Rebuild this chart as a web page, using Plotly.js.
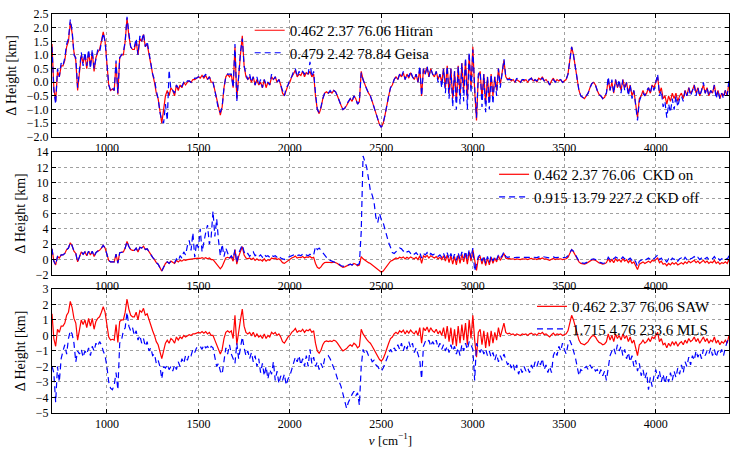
<!DOCTYPE html>
<html>
<head>
<meta charset="utf-8">
<script src="https://cdn.plot.ly/plotly-3.0.1.min.js"></script>
<style>html,body{margin:0;padding:0;background:#fff;}#chart{width:747px;height:449px;}</style>
</head>
<body>
<div id="chart"></div>
<script>
// wavenumber grid: start and step (cm^-1)
const nuStart = 700;
const nuStep = 10;

// Reference run (red): 0.462 2.37 76.06
const refHitran = [
1.4,-0.2,-0.7,0.4,0.2,0.6,0.6,0.8,1.3,1.5,
2.2,1.8,1.1,0.8,-0.3,0.4,1.0,0.7,1.0,0.5,
1.1,0.6,1.1,0.4,0.9,1.1,1.2,1.5,1.85,1.5,
0.5,-0.1,-0.3,-0.25,-0.3,0.7,-0.45,0.9,1.0,1.0,
1.5,2.35,1.7,1.3,1.2,1.2,1.5,1.0,1.6,1.5,
1.75,1.3,1.4,1.0,0.6,0.3,0.0,-0.4,-0.6,-1.0,
-1.5,-1.0,-0.5,-0.3,-0.5,-0.2,-0.3,-0.5,-0.1,-0.3,
-0.1,-0.2,0.0,-0.1,0.0,0.05,0.0,0.1,0.1,0.15,
0.2,0.15,0.25,0.15,0.25,0.1,0.2,0.0,0.0,-0.3,
-0.6,-1.0,-1.2,-0.9,-0.2,0.2,0.3,0.2,0.3,-0.2,
1.3,-0.6,0.4,1.0,1.7,0.6,0.2,0.1,0.2,0.0,
0.2,-0.1,0.1,-0.1,0.0,-0.2,0.1,-0.2,0.0,-0.1,
0.2,0.1,0.2,0.0,0.1,-0.1,-0.4,-0.5,-0.3,-0.1,
0.0,0.2,0.3,0.45,0.2,0.3,0.25,0.4,0.2,0.35,
0.3,0.4,0.2,0.3,-0.5,-1.0,-1.15,-0.95,-0.6,-0.4,
-0.35,-0.4,-0.35,-0.4,-0.3,-0.35,-0.5,-0.7,-0.85,-1.0,
-0.95,-0.85,-0.7,-0.6,-0.7,-0.5,-0.6,-0.8,-0.7,0.4,
0.1,-0.1,-0.25,-0.4,-0.5,-0.7,-0.9,-1.1,-1.35,-1.55,
-1.65,-1.5,-1.2,-0.8,-0.5,-0.2,-0.1,0.1,0.2,0.1,
0.3,0.2,0.35,0.1,0.3,0.15,0.35,0.2,0.1,0.3,
0.0,0.5,-0.5,0.5,0.3,0.55,0.2,0.5,0.3,0.2,
0.4,0.1,0.3,0.0,0.5,-0.2,0.6,-0.4,0.5,-0.6,
0.4,-0.7,0.6,-0.5,0.7,-0.3,0.8,-0.6,1.0,-0.2,
1.3,-0.3,-1.4,0.2,0.4,-0.6,0.3,-0.8,0.2,-0.7,
0.3,-0.5,0.2,-0.3,0.5,-0.1,0.3,0.8,0.2,0.1,
0.15,0.05,0.1,0.0,0.1,0.05,0.0,0.1,0.05,0.1,
0.0,0.1,0.15,0.05,0.1,0.0,0.15,0.1,0.2,0.05,
0.1,0.0,-0.1,0.05,0.15,0.0,0.1,0.05,0.1,0.0,
0.05,0.1,0.3,0.9,1.3,1.0,0.6,0.2,-0.3,-0.5,
-0.55,-0.6,-0.5,-0.4,-0.2,-0.05,0.0,-0.1,-0.3,-0.45,
-0.5,-0.6,-0.55,-0.4,0.1,-0.3,0.0,-0.4,0.1,-0.2,
0.0,-0.3,0.1,-0.2,0.0,-0.4,-0.1,-0.5,-0.3,-0.8,
-1.3,-0.6,-0.5,-0.3,-0.5,-0.4,-0.2,-0.4,-0.1,-0.2,
0.0,0.2,-0.4,-0.2,-0.6,-0.5,-0.8,-0.5,-0.7,-0.4,
-0.6,-0.4,-0.7,-0.5,-0.4,-0.6,-0.3,-0.5,-0.2,-0.4,
-0.3,-0.1,-0.4,-0.2,-0.5,-0.3,-0.1,-0.4,-0.2,-0.5,
-0.3,-0.4,-0.1,-0.5,-0.3,-0.6,-0.4,-0.5,-0.3,-0.5,
0.0];

// Geisa run (blue, panel 1): 0.479 2.42 78.84
const geisa = [
1.3,-0.3,-0.8,0.5,0.2,0.7,0.6,0.9,1.4,1.6,
2.3,1.9,1.0,0.9,-0.2,0.5,1.1,0.6,1.1,0.6,
1.2,0.5,1.2,0.5,0.9,1.2,1.1,1.5,1.8,1.5,
0.5,-0.1,-0.3,-0.2,-0.3,0.8,-0.4,0.9,1.0,1.1,
1.5,2.4,1.8,1.3,1.2,1.3,1.6,1.0,1.7,1.5,
1.8,1.3,1.5,1.0,0.7,0.3,0.1,-0.3,-0.6,-1.1,
-1.4,-1.5,-0.8,-1.4,0.45,-0.3,-0.3,-0.4,-0.1,-0.2,
-0.1,-0.15,0.0,-0.05,0.05,0.05,0.0,0.1,0.15,0.15,
0.2,0.2,0.25,0.2,0.3,0.1,0.2,0.05,0.0,-0.3,
-0.6,-1.0,-1.1,-0.9,-0.2,0.2,0.3,0.3,0.3,-0.2,
1.4,-0.7,0.4,1.1,1.6,0.6,0.3,0.1,0.3,0.0,
0.2,-0.1,0.2,-0.1,0.1,-0.2,0.1,-0.1,0.0,-0.1,
0.3,0.1,0.2,0.0,0.1,-0.1,-0.3,-0.5,-0.2,-0.1,
0.1,0.2,0.4,0.5,0.2,0.4,0.3,0.4,0.3,0.4,
0.3,0.75,0.2,0.4,-0.4,-1.0,-1.1,-0.9,-0.6,-0.4,
-0.35,-0.4,-0.3,-0.4,-0.3,-0.35,-0.5,-0.7,-0.85,-1.0,
-0.95,-0.8,-0.7,-0.6,-0.7,-0.5,-0.6,-0.8,-0.7,0.35,
0.1,-0.1,-0.25,-0.4,-0.5,-0.7,-0.9,-1.1,-1.35,-1.55,
-1.65,-1.5,-1.2,-0.8,-0.5,-0.2,-0.1,0.1,0.2,0.1,
0.3,0.2,0.4,0.1,0.3,0.2,0.4,0.2,0.1,0.3,
0.0,0.6,-0.5,0.5,0.3,0.6,0.2,0.5,0.3,0.2,
0.4,0.0,0.3,-0.2,0.5,-0.4,0.6,-0.6,0.5,-0.9,
0.4,-1.0,0.6,-0.8,0.7,-0.7,0.9,-1.0,1.1,-0.4,
1.2,-0.2,-1.3,0.3,0.4,-0.9,0.3,-1.1,0.2,-1.0,
0.3,-0.8,0.2,-0.5,0.5,-0.2,0.3,0.85,0.2,0.1,
0.1,0.1,0.1,0.0,0.15,0.05,0.0,0.1,0.1,0.1,
0.05,0.1,0.15,0.0,0.1,0.05,0.15,0.1,0.15,0.05,
0.1,0.05,-0.1,0.05,0.1,0.0,0.1,0.1,0.1,0.0,
0.05,0.1,0.3,0.9,1.3,1.0,0.6,0.2,-0.3,-0.5,
-0.55,-0.6,-0.5,-0.4,-0.2,-0.05,0.0,-0.1,-0.3,-0.45,
-0.5,-0.6,-0.5,-0.4,0.2,-0.3,0.1,-0.4,0.1,-0.2,
0.1,-0.4,0.1,-0.3,0.0,-0.5,-0.1,-0.6,-0.3,-0.9,
-1.4,-0.7,-0.5,-0.4,-0.5,-0.3,-0.2,-0.4,-0.1,-0.3,
0.0,0.3,-0.5,-0.3,-0.9,-0.7,-1.3,-0.8,-1.1,-0.6,
-1.0,-0.5,-0.9,-0.6,-0.5,-0.7,-0.3,-0.5,-0.2,-0.5,
-0.3,-0.1,-0.5,-0.2,-0.5,-0.3,0.0,-0.4,-0.2,-0.5,
-0.3,-0.4,-0.1,-0.6,-0.3,-0.6,-0.4,-0.6,-0.3,-0.5,
0.1];

// CKD off run (blue, panel 2): 0.915 13.79 227.2
const ckdOff = [
1.4,-0.2,-0.7,0.4,0.2,0.6,0.6,0.8,1.3,1.5,
2.2,1.8,1.1,0.8,-0.3,0.4,1.0,0.7,1.0,0.5,
1.1,0.6,1.1,0.4,0.9,1.1,1.2,1.5,1.85,1.5,
0.5,-0.1,-0.3,-0.25,-0.3,0.7,-0.45,0.9,1.0,1.0,
1.5,2.35,1.7,1.3,1.2,1.2,1.5,1.0,1.6,1.5,
1.75,1.3,1.4,1.0,0.6,0.3,0.0,-0.4,-0.6,-1.0,
-1.5,-1.0,-0.5,-0.3,-0.5,-0.2,-0.3,-0.4,0.1,-0.2,
0.5,0.2,1.0,0.6,1.8,2.5,1.2,3.5,0.3,2.2,
1.5,4.0,1.0,2.5,3.5,4.5,2.0,3.0,6.3,3.0,
5.3,2.5,0.5,2.0,0.4,1.5,0.8,0.2,0.5,0.1,
1.3,-0.4,0.8,1.3,1.9,1.0,0.6,0.8,0.4,0.7,
1.0,0.5,0.7,0.4,0.6,0.3,0.7,0.4,0.5,0.3,
0.6,0.4,0.5,0.3,0.5,0.2,0.1,0.0,0.2,0.3,
0.4,0.5,0.6,0.7,0.5,0.6,0.5,0.7,0.5,0.6,
0.5,0.7,0.5,0.6,1.7,1.3,1.5,1.2,0.9,0.5,
0.2,0.0,-0.1,-0.2,-0.2,-0.3,-0.4,-0.6,-0.8,-0.9,
-0.9,-0.8,-0.7,-0.6,-0.7,-0.5,-0.5,-0.7,-0.5,3.6,
13.5,12.8,12.0,10.5,9.0,8.4,7.5,5.5,4.8,6.0,
5.2,4.8,3.8,3.0,2.2,1.6,0.9,0.8,1.0,1.2,
1.5,1.4,1.1,1.3,1.0,1.1,0.8,1.0,0.7,0.9,
0.6,0.9,0.2,0.8,0.6,0.9,0.5,0.8,0.6,0.7,
0.7,0.4,0.6,0.3,0.8,0.2,0.9,0.1,0.8,0.0,
0.7,-0.1,0.9,0.0,1.0,0.2,1.1,0.0,1.3,0.2,
1.5,-1.5,-0.5,0.4,0.6,-0.2,0.5,-0.5,0.4,-0.4,
0.5,-0.2,0.4,0.0,0.6,0.2,0.5,1.0,0.4,0.3,
0.35,0.3,0.3,0.25,0.3,0.3,0.25,0.3,0.3,0.3,
0.25,0.3,0.35,0.3,0.3,0.25,0.35,0.3,0.4,0.3,
0.3,0.25,0.2,0.3,0.35,0.25,0.3,0.3,0.3,0.25,
0.3,0.3,0.5,1.0,1.3,1.1,0.7,0.3,-0.2,-0.4,
-0.45,-0.5,-0.4,-0.3,-0.1,0.05,0.1,0.0,-0.2,-0.35,
-0.4,-0.5,-0.45,-0.3,0.3,0.0,0.3,0.1,0.35,0.2,
0.3,0.1,0.35,0.1,0.3,0.0,0.2,-0.1,0.1,-0.3,
-0.9,-0.2,-0.1,0.1,-0.1,0.0,0.2,0.0,0.25,0.1,
0.3,0.6,0.0,0.2,-0.2,0.0,-0.3,0.1,-0.2,0.2,
0.0,0.2,-0.2,0.1,0.2,-0.1,0.3,0.0,0.3,0.1,
0.2,0.4,0.1,0.3,0.0,0.2,0.4,0.1,0.3,0.0,
0.2,0.1,0.4,0.0,0.2,-0.1,0.1,0.0,0.2,0.0,
0.5];

// MLS run (blue, panel 3): 1.715 4.76 233.6
const mls = [
-2.0,-2.4,-4.3,-2.0,-3.0,-1.5,-1.0,-0.6,-1.2,-0.2,
0.3,0.1,-0.5,-1.7,-1.0,-1.2,-0.9,-1.4,-1.0,-1.2,
-0.8,-1.3,-0.7,-1.0,-0.5,-0.7,-0.4,-0.6,-1.0,-1.3,
-2.0,-3.0,-3.4,-3.5,-3.2,-2.4,-3.5,-0.5,-0.3,0.3,
0.5,1.5,0.6,0.3,0.5,0.0,0.3,-0.3,0.0,-0.5,
-0.2,-0.7,-0.4,-1.0,-0.8,-1.3,-1.2,-1.8,-1.6,-2.0,
-2.8,-2.0,-2.1,-1.9,-2.2,-2.0,-2.3,-1.9,-2.2,-1.7,
-2.0,-1.5,-1.8,-1.3,-1.6,-1.2,-1.3,-0.9,-1.1,-0.8,
-0.8,-0.7,-0.9,-0.6,-0.8,-0.7,-0.9,-0.7,-0.8,-1.5,
-2.0,-1.8,-2.3,-2.5,-1.5,-0.8,-1.2,-0.6,-1.2,-1.5,
-1.8,-0.5,-1.5,-0.8,-0.1,-0.8,-1.3,-1.0,-1.5,-1.1,
-1.7,-1.3,-2.0,-1.5,-2.4,-1.8,-2.6,-2.0,-2.8,-2.2,
-2.5,-1.7,-2.9,-2.3,-3.1,-2.6,-2.9,-2.5,-3.2,-2.8,
-2.6,-2.2,-1.8,-1.4,-1.7,-1.3,-1.9,-1.5,-2.0,-1.3,
-2.0,-0.9,-1.8,-1.4,-2.0,-1.7,-2.2,-1.8,-2.1,-1.5,
-1.4,-1.3,-1.5,-1.8,-2.0,-2.4,-2.8,-3.0,-3.3,-3.8,
-4.3,-4.7,-4.3,-4.0,-3.8,-3.6,-3.9,-3.7,-4.5,-2.0,
-0.9,-1.2,-1.0,-1.3,-1.4,-1.7,-1.6,-1.9,-2.0,-2.2,
-2.3,-2.1,-1.8,-1.5,-1.2,-0.9,-1.1,-0.8,-1.0,-0.6,
-0.9,-0.5,-1.0,-0.6,-0.9,-0.4,-0.8,-0.5,-1.1,-0.8,
-1.2,-1.6,-2.8,-0.7,-0.4,-0.5,-0.3,-0.7,-0.4,-0.6,
-0.3,-0.8,-0.5,-0.9,-0.6,-1.0,-0.7,-1.1,-0.6,-1.0,
-0.7,-1.2,-0.8,-1.3,-0.6,-1.0,-0.5,-0.9,-0.4,-0.6,
-0.9,-2.9,-0.5,-0.8,-1.1,-0.8,-1.2,-0.9,-1.3,-1.0,
-1.4,-1.1,-1.6,-1.2,-1.7,-1.3,-1.6,-1.2,-1.6,-1.9,
-1.7,-2.1,-1.8,-2.3,-1.9,-2.5,-2.1,-2.4,-2.0,-2.3,
-2.1,-2.4,-1.9,-2.2,-1.7,-2.0,-1.6,-1.9,-1.5,-2.2,
-1.9,-2.4,-2.0,-2.4,-1.3,-1.0,-1.3,-0.7,-1.0,-0.5,
-0.9,-1.2,-0.6,-0.3,-0.6,-1.0,-1.4,-2.0,-2.6,-2.2,
-2.3,-2.1,-2.0,-2.2,-1.9,-2.1,-2.0,-2.3,-2.2,-2.5,
-2.2,-2.6,-2.3,-2.9,-2.0,-1.3,-1.0,-0.8,-1.2,-0.6,
-1.0,-0.7,-1.3,-0.9,-1.5,-1.1,-1.7,-1.3,-2.0,-1.6,
-2.3,-1.8,-2.6,-2.2,-2.8,-2.4,-3.5,-2.7,-3.3,-2.6,
-2.2,-2.8,-2.3,-3.0,-2.5,-3.1,-2.6,-3.0,-2.4,-2.9,
-2.3,-2.7,-2.1,-2.5,-1.9,-2.4,-1.7,-2.0,-1.4,-1.9,
-1.3,-1.6,-1.0,-1.4,-1.1,-1.5,-0.9,-1.3,-1.0,-1.2,
-0.8,-1.3,-0.9,-1.4,-1.0,-1.2,-0.9,-1.3,-0.8,-0.4,
-0.2];

// Top-axis tick labels (wavelength)
const topTickNu = [1000, 1500, 2000, 2500, 3333.33, 4000];
const topTickLabels = ['10.0<i>μ</i>m','6.7<i>μ</i>m','5.0<i>μ</i>m','4.0<i>μ</i>m','3.0<i>μ</i>m','2.5<i>μ</i>m'];

const legendNames = {
  hitran: '0.462 2.37 76.06 Hitran',
  geisa: '0.479 2.42 78.84 Geisa',
  ckdOn: '0.462 2.37 76.06\u00a0 CKD on',
  ckdOff: '0.915 13.79 227.2 CKD off',
  saw: '0.462 2.37 76.06 SAW',
  mls: '1.715 4.76 233.6 MLS'
};

const RED = '#ff0000', BLUE = '#0000ff';
const redLine = {color: RED, width: 1.2};
const blueLine = {color: BLUE, width: 1.2, dash: '6px,4px'};

function tr(y, xa, ya, name, line, legend) {
  return {type:'scatter', mode:'lines', x0: nuStart, dx: nuStep, y: y,
          xaxis: xa, yaxis: ya, name: name, line: line, legend: legend, hoverinfo:'skip'};
}

const data = [
  tr(refHitran, 'x', 'y', legendNames.hitran, redLine, 'legend'),
  tr(geisa, 'x', 'y', legendNames.geisa, blueLine, 'legend'),
  tr(refHitran, 'x2', 'y2', legendNames.ckdOn, redLine, 'legend2'),
  tr(ckdOff, 'x2', 'y2', legendNames.ckdOff, blueLine, 'legend2'),
  tr(refHitran, 'x3', 'y3', legendNames.saw, redLine, 'legend3'),
  tr(mls, 'x3', 'y3', legendNames.mls, blueLine, 'legend3')
];

const FONT = 'Liberation Serif';
const tickFont = {family: FONT, size: 12, color: '#000'};

function xax(anchor, extra) {
  return Object.assign({
    domain:[0,1], anchor: anchor, range:[700,4400], tick0:0, dtick:500,
    ticks:'inside', ticklen:4, tickcolor:'#000', mirror:'ticks', showline:true,
    linecolor:'#000', linewidth:1, showgrid:true, gridcolor:'#a0a0a0', griddash:'dot',
    gridwidth:1, zeroline:false, tickfont: tickFont
  }, extra || {});
}
function yax(anchor, domain, range, dtick, fmt) {
  return {
    domain: domain, anchor: anchor, range: range, dtick: dtick, tick0: 0, tickformat: fmt,
    ticks:'inside', ticklen:4, tickcolor:'#000', mirror:'ticks', showline:true,
    linecolor:'#000', linewidth:1, showgrid:true, gridcolor:'#a0a0a0', griddash:'dot',
    gridwidth:1, zeroline:false, tickfont: tickFont,
    title: {text:'Δ Height [km]', font:{family: FONT, size:14, color:'#000'}, standoff: 6}
  };
}
const legendBase = {xanchor:'left', yanchor:'top', bgcolor:'rgba(0,0,0,0)', borderwidth:0,
  font:{family: FONT, size:15, color:'#000'}, tracegroupgap: 0};

const layout = {
  width: 747, height: 449,
  margin: {l:52, r:18, t:14, b:36, pad:0},
  paper_bgcolor:'#fff', plot_bgcolor:'#fff',
  font: {family: FONT, color:'#000'},
  showlegend: true,
  xaxis: xax('y'),
  xaxis2: xax('y2'),
  xaxis3: xax('y3', {title:{text:'<i>ν</i> [cm<sup>−1</sup>]', font:{family: FONT, size:13, color:'#000'}, standoff: 4}}),
  xaxis4: {overlaying:'x', side:'top', anchor:'y', range:[700,4400], tickmode:'array',
           tickvals: topTickNu, ticktext: topTickLabels, showgrid:false, showline:false,
           zeroline:false, ticks:'', tickfont: tickFont},
  yaxis: yax('x', [0.692, 1], [-2, 2.5], 0.5, '.1f'),
  yaxis2: yax('x2', [0.346, 0.654], [-2, 14], 2, 'd'),
  yaxis3: yax('x3', [0, 0.311], [-5, 3], 1, 'd'),
  legend: Object.assign({x:0.292, y:1.0}, legendBase),
  legend2: Object.assign({x:0.653, y:0.639}, legendBase),
  legend3: Object.assign({x:0.709, y:0.308}, legendBase)
};

Plotly.newPlot('chart', data, layout, {staticPlot:true, displayModeBar:false});
</script>
</body>
</html>
